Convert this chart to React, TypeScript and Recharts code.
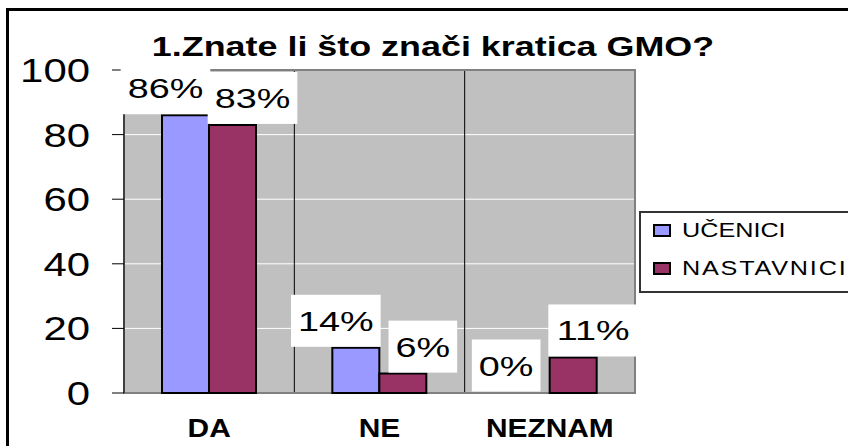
import React from 'react';
import { BarChart, Bar, XAxis, YAxis, CartesianGrid, LabelList, ReferenceArea, Rectangle } from 'recharts';

const categories = ['DA', 'NE', 'NEZNAM'];
const ucenici = [86, 14, 0];
const nastavnici = [83, 6, 11];
const yTicks = [0, 20, 40, 60, 80, 100];
const seriesNames = ['UČENICI', 'NASTAVNICI'];
const seriesColors = ['#9999FF', '#993366'];
const title = '1.Znate li što znači kratica GMO?';

const data = categories.map((c, i) => ({ name: c, s0: ucenici[i], s1: nastavnici[i] }));

const FONT = "'Liberation Sans', Arial, sans-serif";
const W = 848;
const H = 446;

const charW: Record<string, number> = { '%': 0.889 };
const natural = (s: string) => s.split('').reduce((a, ch) => a + (charW[ch] ?? 0.556), 0);

const LABEL_SIZE = 28;
const LABEL_SX = 1.35;

const makeLabel = (dx: number) => (props: any) => {
  const { x, y, width, height, value } = props;
  const txt = `${value}%`;
  const w = natural(txt) * LABEL_SIZE * LABEL_SX + 14;
  const h = 52;
  const cx = Number(x) + Number(width) / 2 + dx;
  const top = Math.min(Number(y), Number(y) + Number(height || 0));
  const bottom = top - 1;
  return (
    <g>
      <rect x={cx - w / 2} y={bottom - h} width={w} height={h} fill="#fff" />
      <text
        transform={`translate(${cx},${bottom - h / 2 + 10}) scale(${LABEL_SX},1)`}
        textAnchor="middle"
        fontSize={LABEL_SIZE}
        fontFamily={FONT}
        fill="#000"
      >
        {txt}
      </text>
    </g>
  );
};

const BarShape = (props: any) => {
  if (Math.abs(Number(props.height)) < 1) return <g />;
  return <Rectangle {...props} />;
};

const YTick = (props: any) => {
  const { x, y, payload } = props;
  return (
    <text
      transform={`translate(${x},${Number(y) + 12}) scale(1.27,1)`}
      textAnchor="end"
      fontSize={33}
      fontFamily={FONT}
      fill="#000"
    >
      {payload.value}
    </text>
  );
};

const XTick = (props: any) => {
  const { x, y, payload } = props;
  return (
    <text
      transform={`translate(${x},${Number(y) + 44}) scale(1.15,1)`}
      textAnchor="middle"
      fontSize={26}
      fontWeight="bold"
      fontFamily={FONT}
      fill="#000"
    >
      {payload.value}
    </text>
  );
};

const minSize = (v: any) => (Number(v) === 0 ? 0.5 : 0);

export default function App() {
  return (
    <div style={{ position: 'absolute', left: 0, top: 0, width: W, height: H, overflow: 'hidden', background: '#fff' }}>
      <div
        style={{
          position: 'absolute',
          left: 6,
          top: 8,
          width: 900,
          height: 500,
          border: '3px solid #000',
          boxSizing: 'border-box',
        }}
      />
      <div style={{ position: 'absolute', left: 0, top: 0 }}>
        <BarChart
          width={W}
          height={H}
          data={data}
          margin={{ top: 70, right: 213, bottom: 23, left: 0 }}
          barGap={0}
          barSize={47}
        >
          <CartesianGrid vertical={false} stroke="#ffffff" fill="#C0C0C0" fillOpacity={1} />
          <CartesianGrid
            horizontal={false}
            stroke="#000000"
            verticalCoordinatesGenerator={({ offset }: any) =>
              categories.slice(1).map((_, i) => offset.left + (offset.width * (i + 1)) / categories.length)
            }
          />
          <ReferenceArea y1={0} y2={100} fill="none" stroke="#808080" strokeWidth={2} ifOverflow="visible" />
          <XAxis
            dataKey="name"
            height={30}
            axisLine={false}
            tickLine={false}
            tickSize={0}
            tickMargin={0}
            tick={<XTick />}
            interval={0}
          />
          <YAxis
            width={124}
            domain={[0, 100]}
            ticks={yTicks}
            axisLine={{ stroke: '#000', strokeWidth: 1 }}
            tickLine={{ stroke: '#000', strokeWidth: 1 }}
            tickSize={12}
            tickMargin={22}
            tick={<YTick />}
            interval={0}
          />
          <Bar
            dataKey="s0"
            name={seriesNames[0]}
            fill={seriesColors[0]}
            stroke="#000"
            strokeWidth={2}
            minPointSize={minSize}
            shape={<BarShape />}
            isAnimationActive={false}
          >
            <LabelList dataKey="s0" content={makeLabel(-20)} />
          </Bar>
          <Bar
            dataKey="s1"
            name={seriesNames[1]}
            fill={seriesColors[1]}
            stroke="#000"
            strokeWidth={2}
            minPointSize={minSize}
            shape={<BarShape />}
            isAnimationActive={false}
          >
            <LabelList dataKey="s1" content={makeLabel(20)} />
          </Bar>
        </BarChart>
      </div>
      <svg width={W} height={H} style={{ position: 'absolute', left: 0, top: 0, pointerEvents: 'none' }}>
        <text
          transform={`translate(433,56) scale(1.33,1)`}
          textAnchor="middle"
          fontSize={27}
          fontWeight="bold"
          fontFamily={FONT}
          fill="#000"
        >
          {title}
        </text>
        <rect x={640} y={212} width={260} height={80} fill="#fff" stroke="#333" strokeWidth={2} />
        {seriesNames.map((n, i) => (
          <g key={n}>
            <rect x={654} y={225 + i * 38} width={16} height={11} fill={seriesColors[i]} stroke="#000" strokeWidth={2} />
            <text
              transform={`translate(682,${237 + i * 38}) scale(1.2,1)`}
              fontSize={21}
              fontFamily={FONT}
              letterSpacing={i === 1 ? 1.5 : 0}
              fill="#000"
            >
              {n}
            </text>
          </g>
        ))}
      </svg>
    </div>
  );
}
